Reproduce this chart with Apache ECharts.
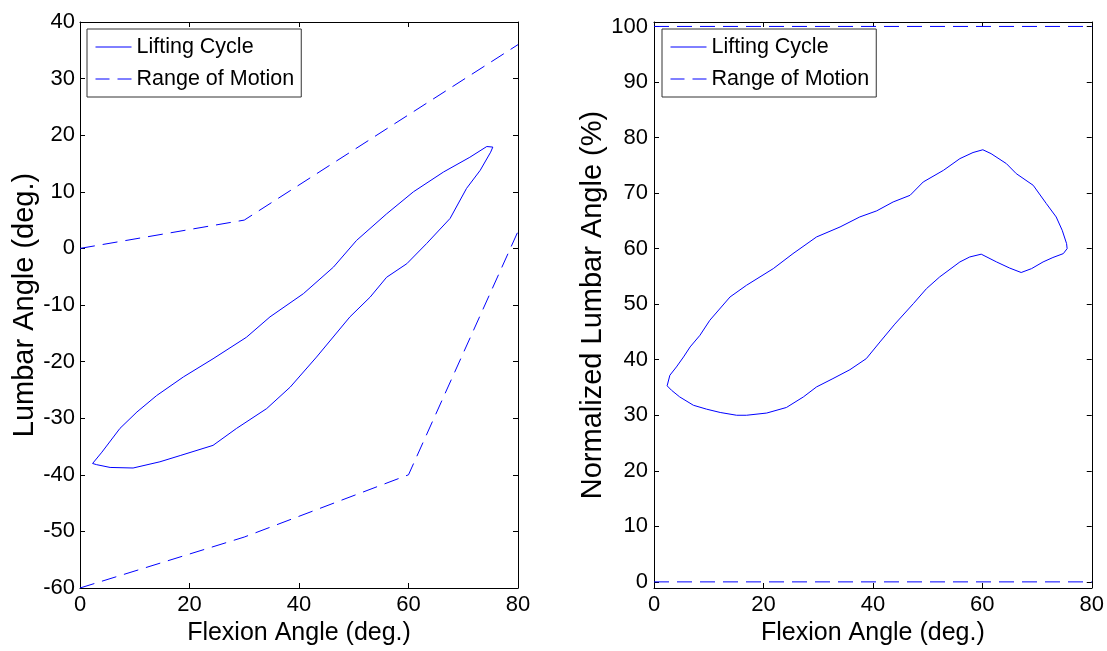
<!DOCTYPE html>
<html>
<head>
<meta charset="utf-8">
<script src="https://cdn.jsdelivr.net/npm/echarts@6/dist/echarts.min.js"></script>
<style>
html,body{margin:0;padding:0;background:#fff;}
#chart{width:1107px;height:651px;}
</style>
</head>
<body>
<div id="chart"></div>
<script>
// ---- data ----
var xTicks = [0, 20, 40, 60, 80];
var leftYTicks = [-60, -50, -40, -30, -20, -10, 0, 10, 20, 30, 40];
var rightYTicks = [0, 10, 20, 30, 40, 50, 60, 70, 80, 90, 100];
var seriesNames = ['Lifting Cycle', 'Range of Motion'];

// Left panel: lifting cycle loop [flexion, lumbar]
var leftCycle = [
  [2.3,-38.0],[4.0,-36.0],[7.3,-31.8],[10.4,-28.9],[14.0,-26.0],[18.9,-22.7],
  [24.3,-19.5],[30.4,-15.7],[34.7,-12.1],[40.8,-8.0],[46.3,-3.3],[50.5,1.4],
  [56.0,6.1],[60.9,10.0],[66.4,13.5],[71.2,16.1],[74.3,18.0],[75.4,17.9],
  [75.0,17.0],[73.1,13.8],[70.6,10.6],[67.6,5.3],[63.3,0.85],[59.7,-2.7],
  [56.0,-5.1],[53.0,-8.6],[49.3,-12.1],[43.2,-19.2],[38.4,-24.5],[34.1,-28.3],
  [28.6,-31.8],[24.3,-34.8],[18.3,-36.6],[14.6,-37.7],[9.7,-38.8],[5.5,-38.7],
  [3.0,-38.2],[2.3,-38.0]
];
// Left panel: range of motion boundaries
var leftRomUpper = [[0,0],[30,5],[80,36]];
var leftRomLower = [[0,-60],[30,-51],[60,-40],[80,3]];

// Right panel: normalized lifting cycle loop [flexion, %]
var rightCycle = [
  [2.4,35.3],[2.9,37.2],[4.1,38.7],[5.4,40.5],[6.6,42.3],[8.4,44.4],[10.2,47.1],
  [13.9,51.3],[16.9,53.4],[21.8,56.4],[25.4,59.1],[29.7,62.1],[34.0,63.9],
  [37.6,65.7],[40.7,66.8],[43.7,68.4],[46.8,69.6],[49.2,72.0],[52.9,74.1],
  [55.9,76.2],[58.3,77.3],[60.1,77.8],[61.6,77.1],[64.4,75.3],[66.2,73.5],
  [69.3,71.4],[71.7,68.1],[73.5,65.7],[74.6,63.3],[75.4,60.9],[75.5,60.0],
  [74.8,59.1],[72.9,58.4],[71.1,57.6],[69.0,56.4],[67.1,55.7],[65.0,56.5],
  [62.6,57.6],[59.8,59.0],[57.7,58.5],[55.9,57.6],[52.2,54.9],[49.8,52.8],
  [47.4,50.1],[44.0,46.4],[41.3,43.2],[38.8,40.2],[35.8,38.2],[32.7,36.6],
  [29.7,35.1],[27.3,33.3],[24.2,31.4],[20.6,30.4],[16.9,30.0],[15.1,30.0],
  [12.1,30.5],[9.6,31.1],[7.2,31.8],[4.7,33.3],[3.2,34.5],[2.4,35.3]
];
var rightRomUpper = [[0,100],[80,100]];
var rightRomLower = [[0,0],[80,0]];

// ---- chart ----
var FONT = "'Liberation Sans', Arial, sans-serif";
var BLUE = '#0000ff';
var DASH = [15, 8];
var chart = echarts.init(document.getElementById('chart'), null, {renderer: 'canvas'});

function xAx(grid, pos, showLabel) {
  var a = {
    type: 'value', gridIndex: grid, position: pos, min: 0, max: 80, interval: 20,
    axisLine: {show: true, onZero: false, lineStyle: {color: '#000', width: 1}},
    axisTick: {show: true, inside: true, length: 5, lineStyle: {color: '#000'}},
    axisLabel: {show: showLabel, fontSize: 22, color: '#000', fontFamily: FONT, margin: 6},
    splitLine: {show: false}
  };
  if (showLabel) {
    a.name = 'Flexion Angle (deg.)';
    a.nameLocation = 'middle';
    a.nameGap = 31;
    a.nameTextStyle = {fontSize: 25, color: '#000', fontFamily: FONT};
  }
  return a;
}
function yAxLeft(grid, pos, showLabel) {
  var a = {
    type: 'value', gridIndex: grid, position: pos, min: -60, max: 40, interval: 10,
    axisLine: {show: true, onZero: false, lineStyle: {color: '#000', width: 1}},
    axisTick: {show: true, inside: true, length: 5, lineStyle: {color: '#000'}},
    axisLabel: {show: showLabel, fontSize: 22, color: '#000', fontFamily: FONT, margin: 5},
    splitLine: {show: false}
  };
  if (showLabel) {
    a.name = 'Lumbar Angle (deg.)';
    a.nameLocation = 'middle';
    a.nameGap = 40;
    a.nameTextStyle = {fontSize: 29, color: '#000', fontFamily: FONT};
  }
  return a;
}
function yAxRight(grid, pos, showLabel) {
  var a = {
    type: 'value', gridIndex: grid, position: pos, min: -1.1, max: 100.8,
    axisLine: {show: true, onZero: false, lineStyle: {color: '#000', width: 1}},
    axisTick: {show: true, inside: true, length: 5, customValues: rightYTicks, lineStyle: {color: '#000'}},
    axisLabel: {show: showLabel, customValues: rightYTicks, fontSize: 22, color: '#000', fontFamily: FONT, margin: 6},
    splitLine: {show: false}
  };
  if (showLabel) {
    a.name = 'Normalized Lumbar Angle (%)';
    a.nameLocation = 'middle';
    a.nameGap = 46;
    a.nameTextStyle = {fontSize: 29, color: '#000', fontFamily: FONT};
  }
  return a;
}

var HIDDEN_SYMBOL = {color: 'rgba(0,0,0,0)', borderWidth: 0, opacity: 0};
function legendAt(left) {
  return {
    orient: 'vertical', left: left, top: 29, align: 'left',
    padding: [7, 7, 7, 8],
    itemWidth: 36, itemHeight: 14, itemGap: 10,
    borderColor: '#333', borderWidth: 1, backgroundColor: '#fff',
    selectedMode: false,
    textStyle: {fontSize: 21.5, lineHeight: 22, color: '#000', fontFamily: FONT},
    data: [
      {name: seriesNames[0], itemStyle: HIDDEN_SYMBOL,
       lineStyle: {color: BLUE, width: 1, type: 'solid', opacity: 1}},
      {name: seriesNames[1], itemStyle: HIDDEN_SYMBOL,
       lineStyle: {color: BLUE, width: 1, type: [14, 8], opacity: 1}}
    ]
  };
}

function lineSeries(name, data, xi, yi, dashed) {
  return {
    type: 'line', name: name, data: data, xAxisIndex: xi, yAxisIndex: yi,
    symbol: 'none', showSymbol: false, smooth: false, z: 3,
    lineStyle: {color: BLUE, width: 1, type: dashed ? DASH : 'solid'},
    itemStyle: {color: BLUE},
    emphasis: {disabled: true}
  };
}

var option = {
  animation: false,
  backgroundColor: '#fff',
  textStyle: {fontFamily: FONT},
  grid: [
    {left: 80, width: 438, top: 22, height: 566, containLabel: false},
    {left: 654, width: 438, top: 22, height: 566, containLabel: false}
  ],
  xAxis: [xAx(0, 'bottom', true), xAx(0, 'top', false), xAx(1, 'bottom', true), xAx(1, 'top', false)],
  yAxis: [yAxLeft(0, 'left', true), yAxLeft(0, 'right', false), yAxRight(1, 'left', true), yAxRight(1, 'right', false)],
  legend: [legendAt(87), legendAt(662)],
  series: [
    lineSeries(seriesNames[0], leftCycle, 0, 0, false),
    lineSeries(seriesNames[1], leftRomUpper, 0, 0, true),
    lineSeries(seriesNames[1], leftRomLower, 0, 0, true),
    lineSeries(seriesNames[0], rightCycle, 2, 2, false),
    lineSeries(seriesNames[1], rightRomUpper, 2, 2, true),
    lineSeries(seriesNames[1], rightRomLower, 2, 2, true)
  ]
};
chart.setOption(option);
</script>
</body>
</html>
